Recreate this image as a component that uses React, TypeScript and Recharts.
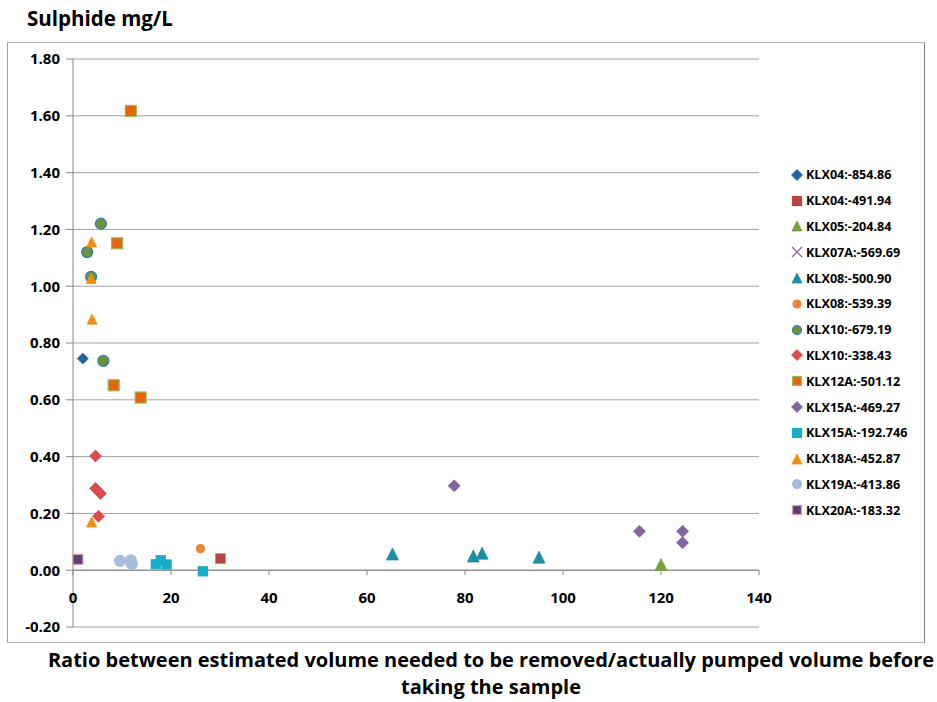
import React from 'react';
import { ScatterChart, Scatter, XAxis, YAxis, CartesianGrid, ReferenceLine } from 'recharts';

// series values (x = volume ratio, y = sulphide mg/L)
const klx04_854 = [{ x: 2.0, y: 0.745 }];
const klx04_491 = [{ x: 30.1, y: 0.041 }];
const klx05_204 = [{ x: 120.0, y: 0.02 }];
const klx07a_569: { x: number; y: number }[] = [];
const klx08_500 = [{ x: 65.2, y: 0.057 }, { x: 81.7, y: 0.05 }, { x: 83.5, y: 0.06 }, { x: 95.1, y: 0.046 }];
const klx08_539 = [{ x: 26.0, y: 0.076 }];
const klx10_679 = [{ x: 2.9, y: 1.12 }, { x: 3.7, y: 1.033 }, { x: 5.7, y: 1.22 }, { x: 6.2, y: 0.737 }];
const klx10_338 = [{ x: 4.6, y: 0.402 }, { x: 4.6, y: 0.288 }, { x: 5.6, y: 0.27 }, { x: 5.2, y: 0.19 }];
const klx12a_501 = [{ x: 11.8, y: 1.617 }, { x: 9.0, y: 1.151 }, { x: 8.3, y: 0.651 }, { x: 13.8, y: 0.608 }];
const klx15a_469 = [{ x: 77.8, y: 0.297 }, { x: 115.6, y: 0.137 }, { x: 124.4, y: 0.137 }, { x: 124.4, y: 0.097 }];
const klx15a_192 = [{ x: 16.9, y: 0.021 }, { x: 17.9, y: 0.035 }, { x: 19.1, y: 0.02 }, { x: 26.5, y: -0.004 }];
const klx18a_452 = [{ x: 3.8, y: 1.156 }, { x: 3.7, y: 1.027 }, { x: 3.9, y: 0.884 }, { x: 3.8, y: 0.17 }];
const klx19a_413 = [{ x: 9.6, y: 0.033 }, { x: 11.8, y: 0.035 }, { x: 12.0, y: 0.022 }];
const klx20a_183 = [{ x: 1.0, y: 0.038 }];

const xTicks = [0, 20, 40, 60, 80, 100, 120, 140];
const yTicks = [-0.2, 0, 0.2, 0.4, 0.6, 0.8, 1.0, 1.2, 1.4, 1.6, 1.8];

type Kind = 'diamond' | 'square' | 'triangle' | 'circle' | 'x';

const SERIES: { name: string; data: { x: number; y: number }[]; kind: Kind; fill: string; stroke: string; size: number }[] = [
  { name: 'KLX04:-854.86', data: klx04_854, kind: 'diamond', fill: '#1F64A4', stroke: '#1F64A4', size: 10 },
  { name: 'KLX04:-491.94', data: klx04_491, kind: 'square', fill: '#BA4542', stroke: '#BA4542', size: 10 },
  { name: 'KLX05:-204.84', data: klx05_204, kind: 'triangle', fill: '#77A03C', stroke: '#77A03C', size: 12 },
  { name: 'KLX07A:-569.69', data: klx07a_569, kind: 'x', fill: 'none', stroke: '#8064A2', size: 10 },
  { name: 'KLX08:-500.90', data: klx08_500, kind: 'triangle', fill: '#1B8EA3', stroke: '#1B8EA3', size: 12 },
  { name: 'KLX08:-539.39', data: klx08_539, kind: 'circle', fill: '#EE8536', stroke: '#EE8536', size: 9 },
  { name: 'KLX10:-679.19', data: klx10_679, kind: 'circle', fill: '#6E9337', stroke: '#2E7DBF', size: 12 },
  { name: 'KLX10:-338.43', data: klx10_338, kind: 'diamond', fill: '#E0494B', stroke: '#E0494B', size: 11 },
  { name: 'KLX12A:-501.12', data: klx12a_501, kind: 'square', fill: '#E8630C', stroke: '#9BBB59', size: 12 },
  { name: 'KLX15A:-469.27', data: klx15a_469, kind: 'diamond', fill: '#8464A4', stroke: '#8464A4', size: 11 },
  { name: 'KLX15A:-192.746', data: klx15a_192, kind: 'square', fill: '#17AEC8', stroke: '#17AEC8', size: 10 },
  { name: 'KLX18A:-452.87', data: klx18a_452, kind: 'triangle', fill: '#F48C12', stroke: '#F48C12', size: 10 },
  { name: 'KLX19A:-413.86', data: klx19a_413, kind: 'circle', fill: '#A8BCDC', stroke: '#A8BCDC', size: 12 },
  { name: 'KLX20A:-183.32', data: klx20a_183, kind: 'square', fill: '#5E3F7A', stroke: '#E09EA8', size: 11 },
];

const FONT = '"Open Sans", Lato, sans-serif';
const W = 937;
const H = 702;
const PLOT_LEFT = 73;
const PLOT_RIGHT = 759;
const PLOT_TOP = 59;
const PLOT_BOTTOM = 627;
const Y_MIN = -0.2;
const Y_MAX = 1.8;
// where the x axis crosses (y = 0)
const ZERO_Y = PLOT_TOP + ((PLOT_BOTTOM - PLOT_TOP) * Y_MAX) / (Y_MAX - Y_MIN);

function Marker({ cx, cy, kind, fill, stroke, size }: { cx: number; cy: number; kind: Kind; fill: string; stroke: string; size: number }) {
  const r = size / 2;
  if (kind === 'diamond') {
    return <polygon points={`${cx},${cy - r - 0.5} ${cx + r + 0.5},${cy} ${cx},${cy + r + 0.5} ${cx - r - 0.5},${cy}`} fill={fill} stroke={stroke} strokeWidth={0.75} />;
  }
  if (kind === 'square') {
    return <rect x={cx - r + 0.5} y={cy - r + 0.5} width={size - 1} height={size - 1} fill={fill} stroke={stroke} strokeWidth={1.25} />;
  }
  if (kind === 'triangle') {
    return <polygon points={`${cx},${cy - r} ${cx + r},${cy + r} ${cx - r},${cy + r}`} fill={fill} stroke={stroke} strokeWidth={0.75} />;
  }
  if (kind === 'circle') {
    return <circle cx={cx} cy={cy} r={r - 0.5} fill={fill} stroke={stroke} strokeWidth={1.25} />;
  }
  return (
    <g stroke={stroke} strokeWidth={1.2}>
      <line x1={cx - r} y1={cy - r} x2={cx + r} y2={cy + r} />
      <line x1={cx - r} y1={cy + r} x2={cx + r} y2={cy - r} />
    </g>
  );
}

const XTick = (props: any) => {
  const { x, payload } = props;
  return (
    <g>
      <line x1={x} x2={x} y1={ZERO_Y} y2={ZERO_Y + 5} stroke="#868686" />
      <text x={x} y={ZERO_Y + 33} textAnchor="middle" fontFamily={FONT} fontWeight={700} fontSize={15} fill="#000">
        {payload.value}
      </text>
    </g>
  );
};

export default function App() {
  return (
    <div style={{ position: 'absolute', left: 0, top: 0, width: W, height: H, background: '#fff', fontFamily: FONT }}>
      <div style={{ position: 'absolute', left: 27, top: 5, fontSize: 20.5, fontWeight: 700, lineHeight: '26px' }}>
        Sulphide mg/L
      </div>
      <div
        style={{
          position: 'absolute', left: 7, top: 42, width: 916, height: 599,
          borderStyle: 'solid', borderWidth: 1, borderColor: '#b4b4b4 #7f7f7f #b4b4b4 #a0a0a0',
        }}
      />
      <div style={{ position: 'absolute', left: 0, top: 0 }}>
        <ScatterChart width={W} height={H} margin={{ top: PLOT_TOP, right: W - PLOT_RIGHT, bottom: 0, left: 8 }}>
          <CartesianGrid vertical={false} stroke="#a3a3a3" />
          <XAxis
            type="number" dataKey="x" domain={[0, 140]} ticks={xTicks} height={H - PLOT_BOTTOM}
            axisLine={false} tickLine={false} tick={<XTick />} interval={0}
          />
          <YAxis
            type="number" dataKey="y" domain={[Y_MIN, Y_MAX]} ticks={yTicks} width={PLOT_LEFT - 8} interval={0}
            tickFormatter={(v: number) => v.toFixed(2)}
            axisLine={{ stroke: '#868686' }} tickLine={{ stroke: '#868686' }} tickSize={7} tickMargin={6}
            tick={{ fontFamily: FONT, fontWeight: 700, fontSize: 15, fill: '#000' }}
          />
          <ReferenceLine y={0} stroke="#868686" />
          {SERIES.map((s) => (
            <Scatter
              key={s.name}
              name={s.name}
              data={s.data}
              isAnimationActive={false}
              shape={(p: any) => <Marker cx={p.cx} cy={p.cy} kind={s.kind} fill={s.fill} stroke={s.stroke} size={s.size} />}
            />
          ))}
        </ScatterChart>
      </div>
      <div style={{ position: 'absolute', left: 790, top: 162 }}>
        {SERIES.map((s) => (
          <div key={s.name} style={{ display: 'flex', alignItems: 'center', height: 25.8 }}>
            <svg width={14} height={14} style={{ marginRight: 2 }}>
              <Marker cx={7} cy={7} kind={s.kind} fill={s.fill} stroke={s.stroke} size={Math.min(s.size, 10)} />
            </svg>
            <span style={{ fontSize: 12.6, fontWeight: 700, whiteSpace: 'nowrap' }}>{s.name}</span>
          </div>
        ))}
      </div>
      <div
        style={{
          position: 'absolute', left: 491 - 470, top: 646, width: 940, textAlign: 'center',
          fontSize: 20, fontWeight: 700, lineHeight: '27px', whiteSpace: 'nowrap',
        }}
      >
        Ratio between estimated volume needed to be removed/actually pumped volume before
        <br />
        taking the sample
      </div>
    </div>
  );
}
